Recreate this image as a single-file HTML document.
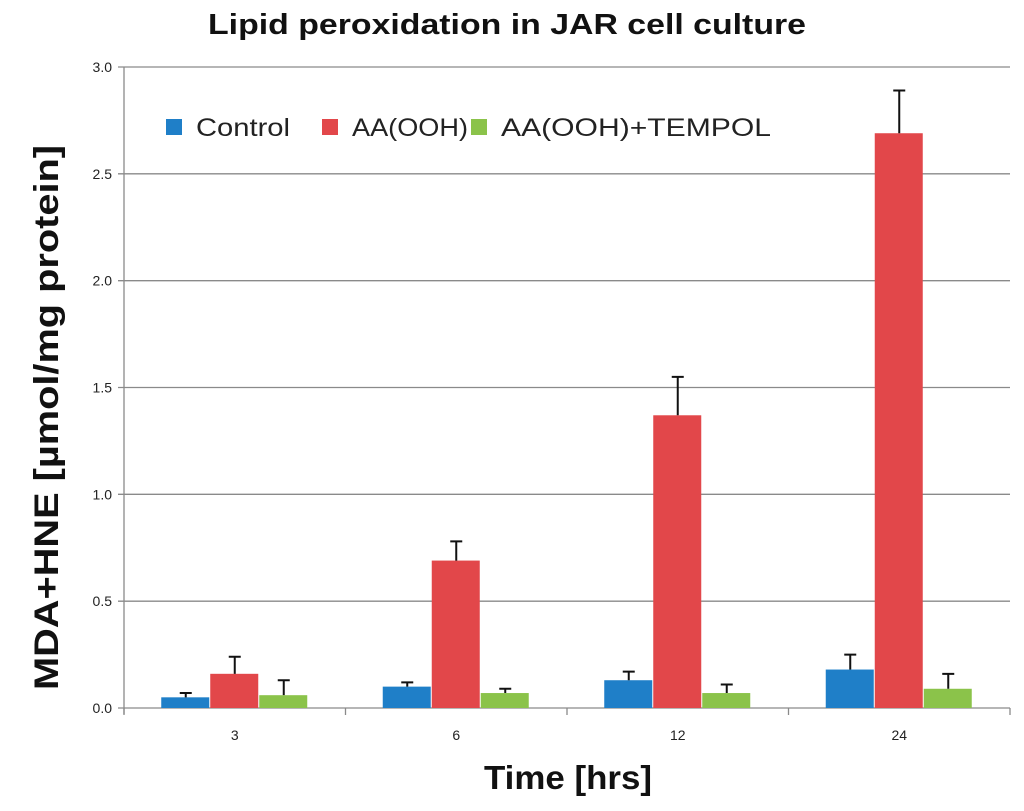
<!DOCTYPE html>
<html><head><meta charset="utf-8"><style>
body{margin:0;background:#fff;width:1024px;height:806px;overflow:hidden}
svg{font-family:"Liberation Sans",sans-serif}
</style></head><body>
<svg id="chart" width="1024" height="806"></svg>
<script>
const categories=["3","6","12","24"];
const seriesNames=["Control","AA(OOH)","AA(OOH)+TEMPOL"];
const control=[0.05,0.10,0.13,0.18];
const aa=[0.16,0.69,1.37,2.69];
const tempol=[0.06,0.07,0.07,0.09];
const controlErr=[0.02,0.02,0.04,0.07];
const aaErr=[0.08,0.09,0.18,0.20];
const tempolErr=[0.07,0.02,0.04,0.07];
const yTicks=["0.0","0.5","1.0","1.5","2.0","2.5","3.0"];
const colors=["#1f7fc8","#e2474a","#8bc34a"];
const NS="http://www.w3.org/2000/svg";
const svg=document.getElementById("chart");
const x0=124,x1=1010,yTop=67,yBot=708,yMax=3;
const cw=(x1-x0)/categories.length;
const y=v=>yBot-(v/yMax)*(yBot-yTop);
function mk(t,a,p){const e=document.createElementNS(NS,t);for(const k in a)e.setAttribute(k,a[k]);(p||svg).appendChild(e);return e;}
yTicks.forEach((t,i)=>{
  const v=parseFloat(t),yy=y(v);
  const g=mk("line",{x1:x0-6,x2:x1,y1:yy,y2:yy,stroke:"#8a8a8a","stroke-width":1.3});
  
  
  const tx=mk("text",{x:x0-12,y:yy+5,"text-anchor":"end","font-size":14,fill:"#222"});
  tx.textContent=t;
  
  
});
const ax=mk("line",{x1:x0,x2:x0,y1:yTop,y2:yBot+6,stroke:"#8a8a8a","stroke-width":1.3});


for(let i=0;i<=categories.length;i++){
  const t=mk("line",{x1:x0+i*cw,x2:x0+i*cw,y1:yBot,y2:yBot+7,stroke:"#8a8a8a","stroke-width":1.3});
  
  
}
const series=[control,aa,tempol],errs=[controlErr,aaErr,tempolErr];
const bw=49;
categories.forEach((c,i)=>{
  const cx=x0+(i+0.5)*cw;
  series.forEach((s,j)=>{
    const bx=cx-1.5*bw+j*bw;
    const top=y(s[i]);
    const r=mk("rect",{x:bx,y:top,width:bw-1,height:yBot-top,fill:colors[j]});
    
    
    const et=y(s[i]+errs[j][i]),mx=bx+bw/2;
    const e=mk("path",{d:`M${mx},${top}V${et}M${mx-6},${et}H${mx+6}`,stroke:"#111","stroke-width":2,fill:"none"});
    
    
  });
  const tl=mk("text",{x:cx,y:yBot+32,"text-anchor":"middle","font-size":14,fill:"#222"});
  tl.textContent=c;
  
  
});
const lx=[166,322,471];
const lw=[94,116,270];
seriesNames.forEach((n,j)=>{
  const r=mk("rect",{x:lx[j],y:119,width:16,height:16,fill:colors[j]});
  
  
  const t=mk("text",{x:lx[j]+30,y:136,"font-size":25,fill:"#222",textLength:lw[j],lengthAdjust:"spacingAndGlyphs"});
  t.textContent=n;
  
  
});
const title=mk("text",{x:208,y:34,"font-size":29,"font-weight":"bold",fill:"#111",textLength:598,lengthAdjust:"spacingAndGlyphs"});
title.textContent="Lipid peroxidation in JAR cell culture";


const xt=mk("text",{x:484,y:789,"font-size":33,"font-weight":"bold",fill:"#111",textLength:168,lengthAdjust:"spacingAndGlyphs"});
xt.textContent="Time [hrs]";


const yt=mk("text",{x:0,y:0,"font-size":34,"font-weight":"bold",fill:"#111",textLength:545,lengthAdjust:"spacingAndGlyphs",transform:"translate(58,690) rotate(-90)"});
yt.textContent="MDA+HNE [µmol/mg protein]";


</script>
</body></html>
